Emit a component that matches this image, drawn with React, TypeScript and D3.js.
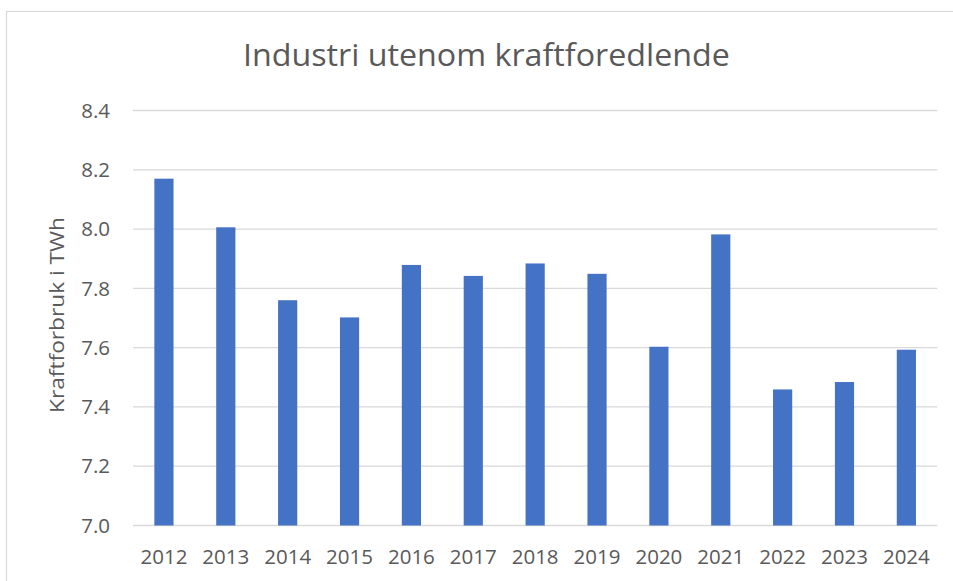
import { useEffect, useRef } from 'react';
import * as d3 from 'd3';

const years = ['2012', '2013', '2014', '2015', '2016', '2017', '2018', '2019', '2020', '2021', '2022', '2023', '2024'];
const usage = [8.17, 8.006, 7.76, 7.702, 7.879, 7.842, 7.884, 7.849, 7.603, 7.982, 7.459, 7.484, 7.593];
const yTicks = [7.0, 7.2, 7.4, 7.6, 7.8, 8.0, 8.2, 8.4];

const title = 'Industri utenom kraftforedlende';
const yLabel = 'Kraftforbruk i TWh';

export default function App() {
  const svgRef = useRef<SVGSVGElement>(null);

  useEffect(() => {
    const svg = d3.select(svgRef.current);
    svg.selectAll('*').remove();

    const width = 953;
    const height = 581;
    const margin = { top: 110.5, right: 15.7, bottom: 55.5, left: 133 };
    const font = "'Open Sans', sans-serif";
    const textColor = '#595959';

    svg.append('rect').attr('width', width).attr('height', height).attr('fill', '#fff');

    // outer frame
    svg.append('rect')
      .attr('x', 6.5).attr('y', 11.5)
      .attr('width', 1000).attr('height', 1000)
      .attr('fill', 'none')
      .attr('stroke', '#d9d9d9')
      .attr('stroke-width', 1.2);

    const x = d3.scaleBand()
      .domain(years)
      .range([margin.left, width - margin.right])
      .paddingInner(0.69)
      .paddingOuter(0.345);

    const y = d3.scaleLinear()
      .domain([7.0, 8.4])
      .range([height - margin.bottom, margin.top]);

    // gridlines
    svg.append('g')
      .selectAll('line')
      .data(yTicks)
      .join('line')
      .attr('x1', margin.left)
      .attr('x2', width - margin.right)
      .attr('y1', (d) => y(d))
      .attr('y2', (d) => y(d))
      .attr('stroke', '#d9d9d9')
      .attr('stroke-width', 1.3);

    // bars
    svg.append('g')
      .selectAll('rect')
      .data(years)
      .join('rect')
      .attr('x', (d) => x(d)!)
      .attr('width', x.bandwidth())
      .attr('y', (d, i) => y(usage[i]))
      .attr('height', (d, i) => y(7.0) - y(usage[i]))
      .attr('fill', '#4472c4');

    // y tick labels
    svg.append('g')
      .selectAll('text')
      .data(yTicks)
      .join('text')
      .attr('x', 110)
      .attr('y', (d) => y(d))
      .attr('dy', '0.35em')
      .attr('text-anchor', 'end')
      .attr('font-family', font)
      .attr('font-size', 20.5)
      .attr('fill', textColor)
      .text((d) => d.toFixed(1));

    // x tick labels
    svg.append('g')
      .selectAll('text')
      .data(years)
      .join('text')
      .attr('x', (d) => x(d)! + x.bandwidth() / 2)
      .attr('y', 564)
      .attr('text-anchor', 'middle')
      .attr('font-family', font)
      .attr('font-size', 20.5)
      .attr('fill', textColor)
      .text((d) => d);

    // title
    svg.append('text')
      .attr('x', 486.4)
      .attr('y', 66)
      .attr('text-anchor', 'middle')
      .attr('font-family', font)
      .attr('font-size', 31)
      .attr('fill', textColor)
      .attr('textLength', 487)
      .attr('lengthAdjust', 'spacingAndGlyphs')
      .text(title);

    // y axis label
    svg.append('text')
      .attr('transform', 'translate(64,315) rotate(-90)')
      .attr('text-anchor', 'middle')
      .attr('font-family', font)
      .attr('font-size', 20.5)
      .attr('fill', textColor)
      .attr('textLength', 196)
      .attr('lengthAdjust', 'spacingAndGlyphs')
      .text(yLabel);
  }, []);

  return (
    <svg
      ref={svgRef}
      width={953}
      height={581}
      style={{ position: 'absolute', left: 0, top: 0, display: 'block' }}
    />
  );
}
